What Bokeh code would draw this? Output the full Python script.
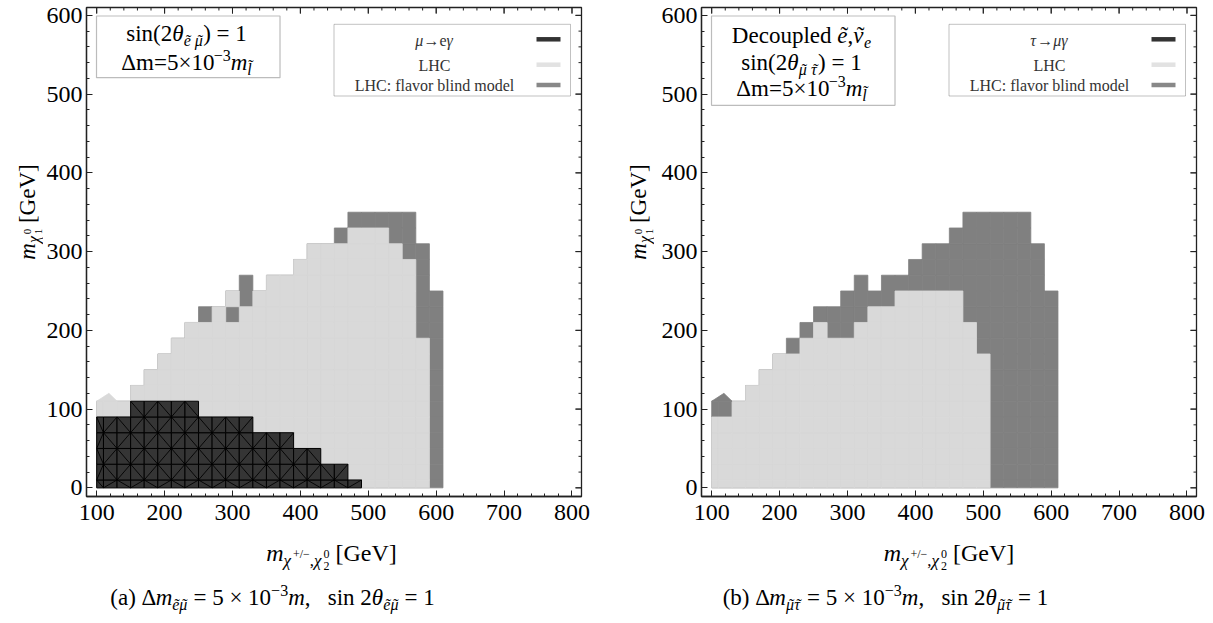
from bokeh.plotting import figure
from bokeh.models import Label, BoxAnnotation, Range1d, FixedTicker
from bokeh.layouts import row, column
from bokeh.embed import file_html
from bokeh.resources import INLINE

# ---------------- data ----------------
# centres of the scan cells (GeV); each cell is 20 GeV wide
mass_x = [100, 120, 140, 160, 180, 200, 220, 240, 260, 280, 300, 320, 340,
          360, 380, 400, 420, 440, 460, 480, 500, 520, 540, 560, 580, 600]
GRID_STEP = 20
# highest excluded m_chi1 cell centre per column (None = nothing excluded)
flavor_blind_top = [100, 100, 100, 120, 140, 160, 180, 200, 220, 220, 240, 260, 240,
                    260, 260, 280, 300, 300, 320, 340, 340, 340, 340, 340, 300, 240]
lhc_top_a = [100, 100, 100, 120, 140, 160, 180, 200, 200, 220, 240, 220, 240,
             260, 260, 280, 300, 300, 300, 320, 320, 320, 300, 280, 180, None]
lhc_holes_a = [(300, 220)]
meg_top_a = [80, 80, 80, 100, 100, 100, 100, 100, 80, 80, 80, 80, 60,
             60, 60, 40, 40, 20, 20, 0, None, None, None, None, None, None]
lhc_top_b = [80, 80, 100, 120, 140, 160, 160, 180, 200, 180, 180, 200, 220,
             220, 240, 240, 240, 240, 240, 200, 160, None, None, None, None, None]
lhc_holes_b = []
tmg_top_b = [None] * 26
# small interpolation spike at the low-mass corner of the excluded regions
spike_x = [100, 118, 130]
spike_y = [110, 120, 110]

x_ticks = [100, 200, 300, 400, 500, 600, 700, 800]
y_ticks = [0, 100, 200, 300, 400, 500, 600]
x_minor = list(range(100, 801, 20))
y_minor = list(range(0, 601, 20))

# ---------------- style / layout ----------------
FONT = "Liberation Serif"
C_LIGHT = "#d9d9d9"
C_DARK = "#808080"
C_BLACK = "#353535"
FRAME_W, FRAME_H = 495, 489
TOP_B, BOT_B = 7, 40
PLOT_H = TOP_B + FRAME_H + BOT_B
BOTTOM_H = 85
X0, X1 = 85, 814
Y0, Y1 = -11, 610
SX = FRAME_W / (X1 - X0)
SY = FRAME_H / (Y1 - Y0)
XMIN_GRID, YMIN_GRID = 100, 0
HALF_PI = 1.5707963267948966
BASE_K = 0.3   # empirical baseline correction (fraction of font size)

W = {' ': .25, '(': .333, ')': .333, '[': .333, ']': .333, ',': .25, ':': .278,
     '=': .564, '+': .564, '−': .564, '×': .564, '/': .278, '→': 1.0, 'Δ': .612,
     'θ': .5, 'χ': .55, 'μ': .52, 'ν': .47, 'τ': .44, 'γ': .45, 'a': .444, 'b': .5,
     'c': .444, 'd': .5, 'e': .444, 'f': .333, 'i': .278, 'l': .278,
     'm': .778, 'n': .5, 'o': .5, 'p': .5, 'r': .333, 's': .389, 'u': .5, 'v': .5,
     'C': .667, 'D': .722, 'G': .722, 'H': .722, 'L': .611, 'V': .722, '˜': .333}


def tw(text, size, style="normal"):
    w = 0.0
    for ch in text:
        if ch == 'm' and style == 'italic':
            w += .722
        else:
            w += W.get(ch, .5)
    return w * size


def P(text, size, style="normal", rise=0, adv=True, dx=0):
    return (text, size, style, rise, adv, dx)


def T(ch, size, style="italic", rise=0, extra=0):
    dx = (tw(ch, size, style) - .333 * size) / 2 + (0.09 * size if style == "italic" else 0)
    return [P("˜", size, "normal", rise + extra, False, dx), P(ch, size, style, rise)]


def rich(p, anchor, pieces, ox, oy, align="left", angle=0.0, color="black"):
    total = sum(tw(t, s, st) for (t, s, st, rise, adv, dx) in pieces if adv)
    pos = 0.0 if align == "left" else -total / 2.0
    for (t, s, st, rise, adv, dx) in pieces:
        stripped = t.lstrip(" ")
        lead = tw(t[:len(t) - len(stripped)], s, st)
        shown = stripped.rstrip(" ")
        r = rise + BASE_K * s
        if shown:
            if angle == 0.0:
                xo, yo = ox + pos + dx + lead, oy + r
            else:
                xo, yo = ox - r, oy + pos + dx + lead
            p.add_layout(Label(x=anchor[0], y=anchor[1], x_offset=xo, y_offset=yo,
                               text=shown, text_font=FONT, text_font_size=f"{s}px",
                               text_font_style=st, text_color=color,
                               text_baseline="alphabetic", text_align="left",
                               angle=angle))
        if adv:
            pos += tw(t, s, st)


def rel(rx, ry):
    return X0 + rx / SX, Y0 + ry / SY


def cells(tops, holes=()):
    xs, ys = [], []
    for x, t in zip(mass_x, tops):
        if t is None:
            continue
        for y in range(0, t + 1, GRID_STEP):
            if (x, y) in holes:
                continue
            xs.append(x)
            ys.append(y)
    return xs, ys


def draw_cells(p, xs, ys, color, line_color=None, line_width=0.8):
    h = GRID_STEP / 2
    left = [max(x - h, XMIN_GRID) for x in xs]
    right = [x + h for x in xs]
    bottom = [max(y - h, YMIN_GRID) for y in ys]
    top = [y + h for y in ys]
    p.quad(left=left, right=right, bottom=bottom, top=top, fill_color=color,
           line_color=line_color or color, line_width=line_width)
    return left, right, bottom, top


def blank_fig(w, h):
    f = figure(width=w, height=h, x_range=Range1d(0, w), y_range=Range1d(0, h),
               output_backend="svg", toolbar_location=None, min_border=0,
               outline_line_color=None)
    f.axis.visible = False
    f.grid.visible = False
    return f


def make_plot(mbl, mbr):
    p = figure(frame_width=FRAME_W, frame_height=FRAME_H,
               x_range=Range1d(X0, X1), y_range=Range1d(Y0, Y1),
               output_backend="svg", toolbar_location=None,
               min_border_left=mbl, min_border_right=mbr,
               min_border_top=TOP_B, min_border_bottom=BOT_B,
               outline_line_color="#222", outline_line_width=1.3,
               background_fill_color="white", border_fill_color="white")
    p.xgrid.visible = False
    p.ygrid.visible = False
    p.xaxis.ticker = FixedTicker(ticks=x_ticks, minor_ticks=x_minor)
    p.yaxis.ticker = FixedTicker(ticks=y_ticks, minor_ticks=y_minor)
    for ax in (p.xaxis[0], p.yaxis[0]):
        ax.axis_line_color = "#222"
        ax.axis_line_width = 1.3
        ax.major_tick_in = 6
        ax.major_tick_out = 0
        ax.minor_tick_in = 3
        ax.minor_tick_out = 0
        ax.major_tick_line_color = "#222"
        ax.minor_tick_line_color = "#222"
        ax.major_label_text_font = FONT
        ax.major_label_text_font_size = "24px"
        ax.major_label_text_color = "black"
    p.xaxis[0].major_label_standoff = 8
    p.yaxis[0].major_label_standoff = 4
    # inward ticks on the top and right edges of the frame
    tx, ty0, ty1 = [], [], []
    for t in x_ticks + x_minor:
        L = 6 if t in x_ticks else 3
        tx.append(t); ty0.append(Y1); ty1.append(Y1 - L / SY)
    p.segment(x0=tx, x1=tx, y0=ty0, y1=ty1, line_color="#222", line_width=1, level="overlay")
    ry, rx0, rx1 = [], [], []
    for t in y_ticks + y_minor:
        L = 6 if t in y_ticks else 3
        ry.append(t); rx0.append(X1); rx1.append(X1 - L / SX)
    p.segment(x0=rx0, x1=rx1, y0=ry, y1=ry, line_color="#222", line_width=1, level="overlay")
    return p


def panel(mbl, mbr, lhc_top, lhc_holes, lfv_top, lfv_label, box_lines, box_dt,
          box_base_dt, spike_color):
    p = make_plot(mbl, mbr)
    A = (X0, Y0)
    # excluded regions
    xs, ys = cells(flavor_blind_top)
    draw_cells(p, xs, ys, C_DARK)
    xs, ys = cells(lhc_top, lhc_holes)
    draw_cells(p, xs, ys, C_LIGHT)
    p.patch(spike_x, spike_y, fill_color=spike_color, line_color=spike_color, line_width=0.8)
    xs, ys = cells(lfv_top)
    if xs:
        l, r, b, t = draw_cells(p, xs, ys, C_BLACK, line_color="black", line_width=1)
        x0s, y0s, x1s, y1s = [], [], [], []
        for i, (xx, yy) in enumerate(zip(xs, ys)):
            if ((xx // GRID_STEP) + (yy // GRID_STEP)) % 2 == 0:
                x0s.append(l[i]); y0s.append(b[i]); x1s.append(r[i]); y1s.append(t[i])
            else:
                x0s.append(l[i]); y0s.append(t[i]); x1s.append(r[i]); y1s.append(b[i])
        p.segment(x0=x0s, y0=y0s, x1=x1s, y1=y1s, line_color="black", line_width=0.9)

    # text box (top left)
    l_, b_ = rel(10, FRAME_H - box_dt[1])
    r_, t_ = rel(193.5, FRAME_H - box_dt[0])
    p.add_layout(BoxAnnotation(left=l_, right=r_, bottom=b_, top=t_, fill_color="white",
                               fill_alpha=1.0, line_color="#222", line_width=1.2))
    for pieces, dt in zip(box_lines, box_base_dt):
        rich(p, A, pieces, 100, FRAME_H - dt, align="center")

    # legend box (top right)
    l_, b_ = rel(247.5, FRAME_H - 88.5)
    r_, t_ = rel(484.0, FRAME_H - 16.8)
    p.add_layout(BoxAnnotation(left=l_, right=r_, bottom=b_, top=t_, fill_color="white",
                               fill_alpha=1.0, line_color="#333", line_width=1.0))
    rows_dt = [31.8, 57.2, 77.5]
    entries = [lfv_label,
               [P("LHC", 16)],
               [P("LHC: flavor blind model", 16)]]
    for pieces, dt in zip(entries, rows_dt):
        rich(p, A, pieces, 348, FRAME_H - dt - 5.5, align="center", color="#333")
    sx0, _ = rel(450, 0)
    sx1, _ = rel(474, 0)
    ys_leg = [rel(0, FRAME_H - dt)[1] for dt in rows_dt]
    p.segment(x0=[sx0] * 3, x1=[sx1] * 3, y0=ys_leg, y1=ys_leg,
              line_color=["#333333", "#e2e2e2", "#888888"], line_width=4.5,
              level="overlay")
    return p


def y_title_fig(w, baseline_x):
    f = blank_fig(w, PLOT_H)
    centre_y = PLOT_H - (TOP_B + FRAME_H / 2)
    rich(f, (0, 0), [P("m", 23, "italic"),
                     P("χ", 16, "italic", -4),
                     P("1", 11, "normal", -7, False),
                     P("0", 11, "normal", 4),
                     P(" [GeV]", 23)],
         baseline_x, centre_y, align="center", angle=HALF_PI)
    return f


def bottom_fig(w, title_cx, cap_cx, caption):
    f = blank_fig(w, BOTTOM_H)
    rich(f, (0, 0), [P("m", 24, "italic"),
                     P("χ", 17, "italic", -5),
                     P("+/−", 12, "normal", 3),
                     P(",", 17, "normal", -5),
                     P("χ", 17, "italic", -5),
                     P("2", 12, "normal", -9, False),
                     P("0", 12, "normal", 3),
                     P(" [GeV]", 24)],
         title_cx, BOTTOM_H - 24, align="center")
    rich(f, (0, 0), caption, cap_cx, BOTTOM_H - 68, align="center")
    return f


S = 16
sub_em = T("e", S, rise=-5) + [P(" ", S, rise=-5)] + T("μ", S, rise=-5)
sub_mt = T("μ", S, rise=-5) + [P(" ", S, rise=-5)] + T("τ", S, rise=-5)
line_delta = [P("Δm=5×10", 23), P("−3", S, rise=9), P("m", 23, "italic")] + \
    T("l", S, rise=-5, extra=4)
box_a = [[P("sin(2", 23), P("θ", 23, "italic")] + sub_em + [P(") = 1", 23)],
         line_delta]
box_b = [[P("Decoupled ", 23)] + T("e", 23) + [P(",", 23)] + T("ν", 23) +
         [P("e", S, "italic", -5)],
         [P("sin(2", 23), P("θ", 23, "italic")] + sub_mt + [P(") = 1", 23)],
         line_delta]
leg_a = [P("μ", 16, "italic"), P("→e", 16), P("γ", 16, "italic")]
leg_b = [P("τ", 16, "italic"), P("→", 16), P("μγ", 16, "italic")]

CS, CF = 16, 23


def caption(tag, subs):
    return ([P(f"({tag})", CF), P(" Δ", CF), P("m", CF, "italic")] + subs +
            [P(" = 5 × 10", CF), P("−3", CS, rise=9), P("m", CF, "italic"),
             P(",", CF), P("   sin 2", CF), P("θ", CF, "italic")] + subs +
            [P(" = 1", CF)])


cap_sub_a = T("e", CS, rise=-5) + T("μ", CS, rise=-5)
cap_sub_b = T("μ", CS, rise=-5) + T("τ", CS, rise=-5)

# left panel: y-title strip 0-43, plot 43-605
pa = panel(41, 26, lhc_top_a, lhc_holes_a, meg_top_a, leg_a, box_a,
           (8.5, 70.2), (33.2, 61.5), C_LIGHT)
ya = y_title_fig(43, 34)
ba = bottom_fig(605, 331, 272, caption("a", cap_sub_a))
# right panel: y-title strip 605-652, plot 652-1211
pb = panel(47, 17, lhc_top_b, lhc_holes_b, tmg_top_b, leg_b, box_b,
           (8.5, 97.8), (34.8, 61.5, 88.2), C_DARK)
yb = y_title_fig(47, 38)
bb = bottom_fig(606, 341.5, 278, caption("b", cap_sub_b))

layout = row(column(row(ya, pa), ba), column(row(yb, pb), bb))
open("out.html", "w").write(file_html(layout, INLINE))
